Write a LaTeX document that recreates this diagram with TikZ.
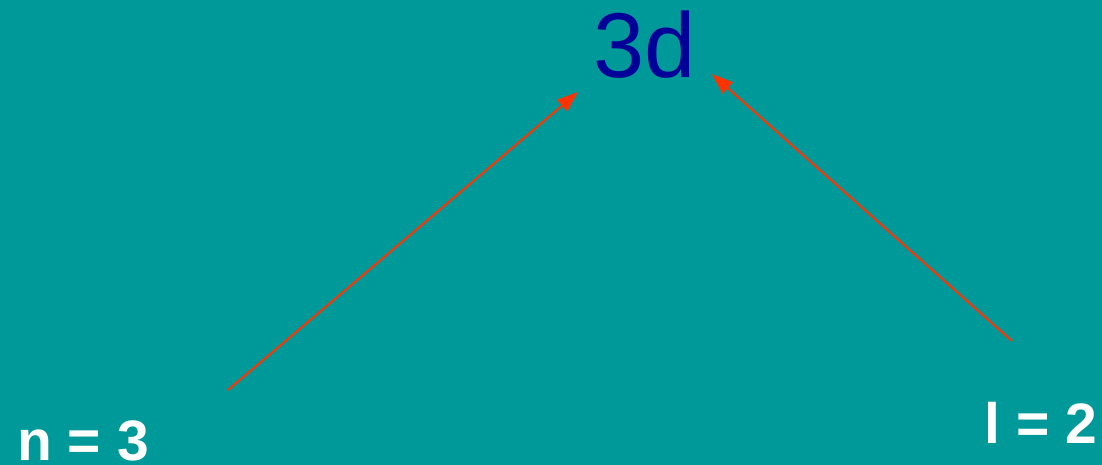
\documentclass[tikz,border=0pt]{standalone}
\usepackage{fontspec}
\setmainfont{Liberation Sans}
\usetikzlibrary{arrows.meta}
\definecolor{bg}{HTML}{009999}
\definecolor{title}{HTML}{000099}
\definecolor{arr}{HTML}{FF3300}
\tikzset{
  lbl/.style={inner sep=0pt, anchor=base, text=white, font=\fontsize{57}{57}\selectfont\bfseries},
  arrowline/.style={draw=arr, line width=2pt, -{Triangle[length=21pt,width=15pt]}}
}
\begin{document}
\begin{tikzpicture}[x=1pt,y=-1pt]
\fill[bg] (0,0) rectangle (1102,465);
\useasboundingbox (0,0) rectangle (1102,465);
\node[inner sep=0pt, anchor=base, text=title, font=\fontsize{92}{92}\selectfont] (t) at (645,78) {3d};
\node[lbl] (n) at (83,460) {n = 3};
\node[lbl] (l) at (1041,443) {l = 2};
\coordinate (ns) at (228,390);
\coordinate (ne) at (578,92);
\coordinate (ls) at (1012,341);
\coordinate (le) at (712,74);
\draw[arrowline] (ns) -- (ne);
\draw[arrowline] (ls) -- (le);
\end{tikzpicture}
\end{document}
